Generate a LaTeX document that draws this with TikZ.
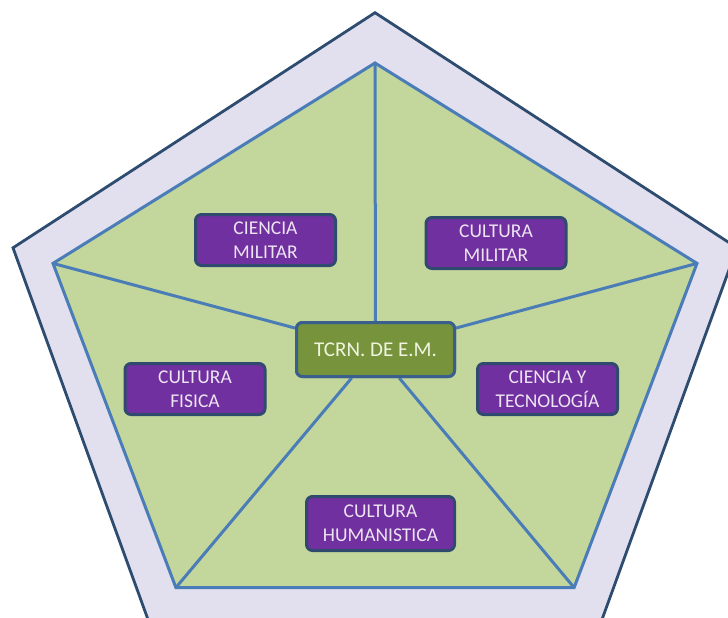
\documentclass[tikz,border=0pt]{standalone}
\usepackage{fontspec}
\setmainfont{Carlito}
\definecolor{outerfill}{HTML}{E2DFEE}
\definecolor{outerline}{HTML}{2E4B70}
\definecolor{innerfill}{HTML}{C3D69B}
\definecolor{innerline}{HTML}{4A7DB8}
\definecolor{ctrfill}{HTML}{77933C}
\definecolor{ctrline}{HTML}{3A5F8C}
\definecolor{ctrtext}{HTML}{F0F5E0}
\definecolor{boxfill}{HTML}{7030A0}
\definecolor{boxline}{HTML}{2F4A6E}
\definecolor{boxtext}{HTML}{EDE4F2}
\tikzset{
  topic/.style={draw=boxline, line width=3pt, fill=boxfill, rounded corners=6pt,
    text=boxtext, font=\fontsize{19.5}{24}\selectfont, align=center,
    inner sep=0pt, minimum width=140pt, minimum height=51pt},
  centre/.style={draw=ctrline, line width=3pt, fill=ctrfill, rounded corners=6pt,
    text=ctrtext, font=\fontsize{21}{24}\selectfont, align=center,
    inner sep=0pt, minimum width=158pt, minimum height=54pt},
  spoke/.style={draw=innerline, line width=3pt}
}
\begin{document}
\begin{tikzpicture}[x=1pt,y=-1pt]
\useasboundingbox (0,0) rectangle (728,618);
\clip (0,0) rectangle (728,618);
% outer pentagon
\coordinate (o1) at (375,12.7);
\coordinate (o2) at (737,247.8);
\coordinate (o3) at (598.8,628.3);
\coordinate (o4) at (151.2,628.3);
\coordinate (o5) at (13,247.8);
\draw[draw=outerline, fill=outerfill, line width=2.8pt] (o1) -- (o2) -- (o3) -- (o4) -- (o5) -- cycle;
% inner pentagon
\coordinate (i1) at (375,63);
\coordinate (i2) at (697,263.4);
\coordinate (i3) at (574.1,587.6);
\coordinate (i4) at (175.9,587.6);
\coordinate (i5) at (53,263.4);
\draw[draw=innerline, fill=innerfill, line width=3pt] (i1) -- (i2) -- (i3) -- (i4) -- (i5) -- cycle;
% centre
\node[centre] (ctr) at (375.5,349.5) {TCRN. DE E.M.};
\foreach \v in {i1,i2,i3,i4,i5} { \draw[spoke] (\v) -- (ctr); }
\node[centre] at (ctr) {TCRN. DE E.M.};
% topics
\node[topic] (cm) at (265.5,240) {CIENCIA\\MILITAR};
\node[topic] (um) at (496,243) {CULTURA\\MILITAR};
\node[topic] (uf) at (195,389) {CULTURA\\FISICA};
\node[topic] (ct) at (547.5,389) {CIENCIA Y\\TECNOLOGÍA};
\node[topic, minimum width=148pt, minimum height=54pt] (uh) at (380.5,523.5) {CULTURA\\HUMANISTICA};
\end{tikzpicture}
\end{document}
